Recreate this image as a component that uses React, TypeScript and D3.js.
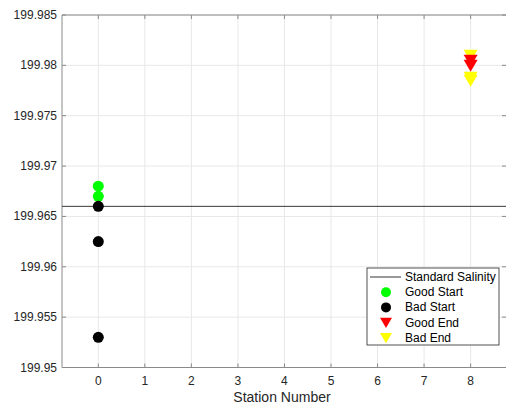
import React from "react";
import * as d3 from "d3";

// Salinity readings per station
const goodStart = [
  { station: 0, value: 199.968 },
  { station: 0, value: 199.967 },
];
const badStart = [
  { station: 0, value: 199.966 },
  { station: 0, value: 199.9625 },
  { station: 0, value: 199.953 },
];
const goodEnd = [
  { station: 8, value: 199.9805 },
  { station: 8, value: 199.98 },
];
const badEnd = [
  { station: 8, value: 199.981 },
  { station: 8, value: 199.9788 },
  { station: 8, value: 199.9785 },
];
const standardSalinity = 199.966;

const xTicks = [0, 1, 2, 3, 4, 5, 6, 7, 8];
const yTicks = [199.95, 199.955, 199.96, 199.965, 199.97, 199.975, 199.98, 199.985];
const legendLabels = ["Standard Salinity", "Good Start", "Bad Start", "Good End", "Bad End"];

const W = 506;
const H = 407;
const M = { left: 62, right: -2, top: 15, bottom: 39.5 };
const FONT = "'Liberation Sans', Arial, Helvetica, sans-serif";

export default function App() {
  const x = d3.scaleLinear().domain([-0.78, 8.76]).range([M.left, W - M.right - 2]);
  const y = d3.scaleLinear().domain([199.95, 199.985]).range([H - M.bottom, M.top]);
  const [x0, x1] = x.range();
  const [yb, yt] = y.range();

  const tri = (cx: number, cy: number, s: number) =>
    `M${cx - s},${cy - s * 0.8}L${cx + s},${cy - s * 0.8}L${cx},${cy + s * 0.9}Z`;

  const lx = 367, ly = 268, lw = 132, lh = 77;
  const rowY = (i: number) => ly + 9 + i * 15.2;

  return (
    <svg width={W} height={H} style={{ position: "absolute", left: 0, top: 0, background: "#fff" }}>
      <rect x={0} y={0} width={W} height={H} fill="#fff" />
      {/* grid */}
      {xTicks.map((t) => (
        <line key={"gx" + t} x1={x(t)} x2={x(t)} y1={yt} y2={yb} stroke="#e8e8e8" strokeWidth={1} />
      ))}
      {yTicks.map((t) => (
        <line key={"gy" + t} x1={x0} x2={x1} y1={y(t)} y2={y(t)} stroke="#e8e8e8" strokeWidth={1} />
      ))}
      {/* axes frame */}
      <line x1={x0} x2={x1} y1={yt} y2={yt} stroke="#8a8a8a" />
      <line x1={x0} x2={x1} y1={yb} y2={yb} stroke="#8a8a8a" />
      <line x1={x0} x2={x0} y1={yt} y2={yb} stroke="#8a8a8a" />
      {/* ticks */}
      {xTicks.map((t) => (
        <g key={"xt" + t}>
          <line x1={x(t)} x2={x(t)} y1={yb} y2={yb - 4} stroke="#8a8a8a" />
          <line x1={x(t)} x2={x(t)} y1={yt} y2={yt + 4} stroke="#8a8a8a" />
          <text x={x(t)} y={yb + 17} fontSize={12} fontFamily={FONT} fill="#262626" textAnchor="middle">
            {t}
          </text>
        </g>
      ))}
      {yTicks.map((t) => (
        <g key={"yt" + t}>
          <line x1={x0} x2={x0 + 4} y1={y(t)} y2={y(t)} stroke="#8a8a8a" />
          <line x1={x1} x2={x1 - 4} y1={y(t)} y2={y(t)} stroke="#8a8a8a" />
          <text x={x0 - 5} y={y(t) + 4} fontSize={12} fontFamily={FONT} fill="#262626" textAnchor="end">
            {d3.format("")(+t.toFixed(3))}
          </text>
        </g>
      ))}
      <text x={(x0 + x1) / 2 - 2} y={H - 5} fontSize={14} fontFamily={FONT} fill="#262626" textAnchor="middle">
        Station Number
      </text>
      {/* standard salinity reference */}
      <line x1={x0} x2={x1} y1={y(standardSalinity)} y2={y(standardSalinity)} stroke="#222" strokeWidth={0.9} />
      {/* markers */}
      {goodStart.map((d, i) => (
        <circle key={"gs" + i} cx={x(d.station)} cy={y(d.value)} r={5.5} fill="#00ff00" />
      ))}
      {badStart.map((d, i) => (
        <circle key={"bs" + i} cx={x(d.station)} cy={y(d.value)} r={5.5} fill="#000" />
      ))}
      {badEnd.map((d, i) => (
        <path key={"be" + i} d={tri(x(d.station), y(d.value), 7)} fill="#ffff00" />
      ))}
      {goodEnd.map((d, i) => (
        <path key={"ge" + i} d={tri(x(d.station), y(d.value), 7)} fill="#ff0000" />
      ))}
      {/* legend */}
      <rect x={lx} y={ly} width={lw} height={lh} fill="#fff" stroke="#262626" strokeWidth={0.8} />
      <line x1={lx + 3} x2={lx + 34} y1={rowY(0)} y2={rowY(0)} stroke="#333" />
      <circle cx={lx + 19} cy={rowY(1)} r={5} fill="#00ff00" />
      <circle cx={lx + 19} cy={rowY(2)} r={5} fill="#000" />
      <path d={tri(lx + 19, rowY(3), 6)} fill="#ff0000" />
      <path d={tri(lx + 19, rowY(4), 6)} fill="#ffff00" />
      {legendLabels.map((l, i) => (
        <text key={l} x={lx + 38} y={rowY(i) + 4} fontSize={12} fontFamily={FONT} fill="#000">
          {l}
        </text>
      ))}
    </svg>
  );
}
